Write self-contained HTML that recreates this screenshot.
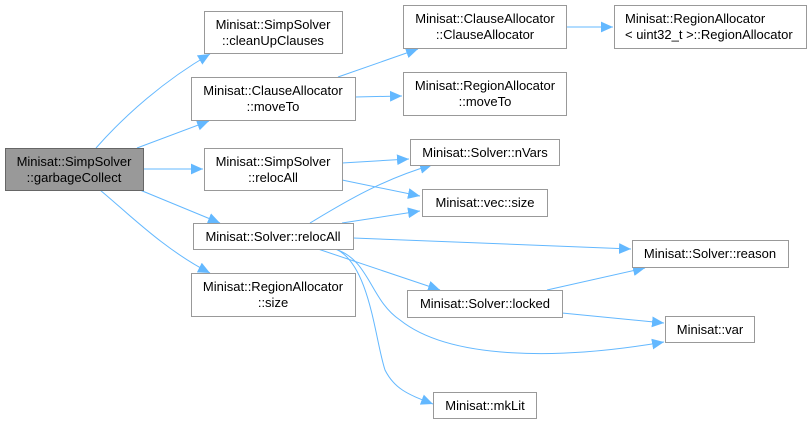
<!DOCTYPE html>
<html><head><meta charset="utf-8"><style>
body{margin:0;background:#fff;width:811px;height:424px;overflow:hidden}
svg text{font-family:"Liberation Sans",Arial,sans-serif;font-size:13px;fill:#000;text-anchor:middle}
</style></head><body>
<svg width="811" height="424" viewBox="0 0 811 424" xmlns="http://www.w3.org/2000/svg">
<defs><marker id="a" viewBox="0 0 10 10" refX="10" refY="5" markerWidth="12" markerHeight="12" markerUnits="userSpaceOnUse" orient="auto"><path d="M0,0.5 L10,5 L0,9.5 z" fill="#63b8ff"/></marker></defs>
<g fill="none" stroke="#63b8ff" stroke-width="1" marker-end="url(#a)">
<path d="M96,148 C125,115 165,80 210,54"/>
<path d="M137,148 L209,121"/>
<path d="M143,169 L203,169"/>
<path d="M140,190 L220,223"/>
<path d="M100,190 C130,215 165,250 210,273"/>
<path d="M338,77 L418,49"/>
<path d="M355,97 L402,96"/>
<path d="M566,27 L613,27"/>
<path d="M342,163 L409,159"/>
<path d="M342,180 L420,196"/>
<path d="M310,223 C340,205 380,180 432,165"/>
<path d="M342,223 L420,211"/>
<path d="M353,238 L631,249"/>
<path d="M318,249 L440,290"/>
<path d="M335,249 C370,260 370,300 400,320 C450,360 560,360 664,342"/>
<path d="M336,249 C370,265 375,340 385,370 C395,390 410,395 433,404"/>
<path d="M547,290 L645,268"/>
<path d="M562,313 L664,323"/>
</g>
<g stroke="#999" stroke-width="1" fill="#fff">
<rect x="5.5" y="148.5" width="138" height="42" fill="#999" stroke="#666"/>
<rect x="204.5" y="11.5" width="138" height="42"/>
<rect x="191.5" y="77.5" width="164" height="43"/>
<rect x="204.5" y="148.5" width="138" height="42"/>
<rect x="193.5" y="223.5" width="160" height="26"/>
<rect x="191.5" y="273.5" width="164" height="43"/>
<rect x="403.5" y="5.5" width="163" height="43"/>
<rect x="614.5" y="5.5" width="192" height="43"/>
<rect x="403.5" y="72.5" width="163" height="43"/>
<rect x="410.5" y="139.5" width="149" height="26"/>
<rect x="422.5" y="189.5" width="125" height="27"/>
<rect x="632.5" y="240.5" width="156" height="27"/>
<rect x="407.5" y="290.5" width="155" height="27"/>
<rect x="665.5" y="316.5" width="89" height="26"/>
<rect x="433.5" y="392.5" width="103" height="26"/>
</g>
<text x="74" y="166">Minisat::SimpSolver</text><text x="74" y="182">::garbageCollect</text>
<text x="273" y="29">Minisat::SimpSolver</text><text x="273" y="45">::cleanUpClauses</text>
<text x="273" y="95">Minisat::ClauseAllocator</text><text x="273" y="111">::moveTo</text>
<text x="273" y="166">Minisat::SimpSolver</text><text x="273" y="182">::relocAll</text>
<text x="273" y="241">Minisat::Solver::relocAll</text>
<text x="273" y="291">Minisat::RegionAllocator</text><text x="273" y="307">::size</text>
<text x="485" y="23">Minisat::ClauseAllocator</text><text x="485" y="39">::ClauseAllocator</text>
<text x="625" y="23" style="text-anchor:start">Minisat::RegionAllocator</text><text x="625" y="39" style="text-anchor:start">&lt; uint32_t &gt;::RegionAllocator</text>
<text x="485" y="90">Minisat::RegionAllocator</text><text x="485" y="106">::moveTo</text>
<text x="485" y="157">Minisat::Solver::nVars</text>
<text x="485" y="207">Minisat::vec::size</text>
<text x="710" y="258">Minisat::Solver::reason</text>
<text x="485" y="308">Minisat::Solver::locked</text>
<text x="710" y="334">Minisat::var</text>
<text x="485" y="410">Minisat::mkLit</text>
</svg>
</body></html>
